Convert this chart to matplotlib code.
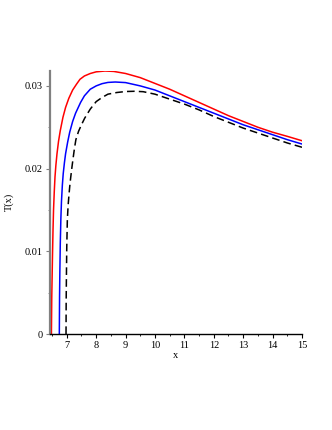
import matplotlib
matplotlib.use("Agg")
import matplotlib.pyplot as plt
from matplotlib.ticker import MultipleLocator

plt.rcParams['font.family'] = ['Liberation Serif', 'DejaVu Serif']
plt.rcParams['lines.scale_dashes'] = False

# red curve
x_red = [6.478, 6.49, 6.50, 6.515, 6.532, 6.55, 6.575, 6.60, 6.63, 6.668,
         6.72, 6.78, 6.87, 6.96, 7.07, 7.2, 7.33, 7.45, 7.6, 7.8,
         8.0, 8.3, 8.6, 9.0, 9.5, 10.0, 10.5, 11.0, 11.5, 12.0,
         12.5, 13.0, 13.5, 14.0, 14.5, 15.0]
t_red = [0.0, 0.0045, 0.0065, 0.0095, 0.0125, 0.0150, 0.0172, 0.0190, 0.0204, 0.0218,
         0.0233, 0.0246, 0.0262, 0.0274, 0.0285, 0.0295, 0.0302, 0.0308, 0.0312, 0.0315,
         0.0317, 0.0318, 0.03175, 0.0315, 0.0310, 0.0303, 0.0296, 0.0288, 0.0280, 0.0272,
         0.0264, 0.0257, 0.0250, 0.0244, 0.0239, 0.02337]

# blue curve
x_blue = [6.747, 6.755, 6.765, 6.78, 6.80, 6.82, 6.85, 6.88, 6.92, 6.96,
          7.03, 7.1, 7.2, 7.3, 7.47, 7.6, 7.8, 8.0, 8.2, 8.4,
          8.65, 9.0, 9.5, 10.0, 10.5, 11.0, 11.5, 12.0, 12.5, 13.0,
          13.5, 14.0, 14.5, 15.0]
t_blue = [0.0, 0.0045, 0.0075, 0.0110, 0.0140, 0.0160, 0.0180, 0.0194, 0.0207, 0.0218,
          0.0232, 0.0244, 0.0257, 0.0267, 0.0280, 0.0288, 0.0296, 0.0300, 0.03027, 0.03042,
          0.03047, 0.0304, 0.0300, 0.0295, 0.0288, 0.0281, 0.0274, 0.0267, 0.0260, 0.0253,
          0.0247, 0.0241, 0.0235, 0.02297]

# black dashed curve
x_black = [6.975, 6.98, 6.99, 7.0, 7.02, 7.045, 7.07, 7.1, 7.13, 7.17,
           7.21, 7.26, 7.31, 7.4, 7.5, 7.61, 7.8, 8.0, 8.2, 8.4,
           8.7, 9.0, 9.3, 9.6, 10.0, 10.5, 11.0, 11.5, 12.0, 12.5,
           13.0, 13.5, 14.0, 14.5, 15.0]
t_black = [0.0, 0.004, 0.0075, 0.0105, 0.0138, 0.0155, 0.0166, 0.0178, 0.0188, 0.0200,
           0.0211, 0.0224, 0.0235, 0.0245, 0.0253, 0.0261, 0.0272, 0.0281, 0.0286, 0.0290,
           0.0292, 0.02932, 0.02935, 0.0293, 0.0290, 0.0284, 0.0278, 0.0271, 0.0263, 0.0256,
           0.0249, 0.0243, 0.0237, 0.0231, 0.02258]

x_ticks = [7, 8, 9, 10, 11, 12, 13, 14, 15]
y_ticks = [0, 0.01, 0.02, 0.03]
y_tick_labels = ["0", "0.01", "0.02", "0.03"]

fig = plt.figure(figsize=(3.32, 4.30), dpi=100)
ax = fig.add_axes([50 / 332, 1 - 334 / 430, 252 / 332, 263.4 / 430])

ax.plot(x_red, t_red, color="#ff0000", lw=1.1)
ax.plot(x_blue, t_blue, color="#0000ff", lw=1.1)
ax.plot(x_black, t_black, color="black", lw=1.1, dashes=(5.5, 3.0))

ax.set_xlim(6.43, 15.0)
ax.set_ylim(0, 0.03185)

ax.set_xticks(x_ticks)
ax.set_xticklabels([str(v) for v in x_ticks])
ax.set_yticks(y_ticks)
ax.set_yticklabels(y_tick_labels)
ax.xaxis.set_minor_locator(MultipleLocator(0.5))
ax.yaxis.set_minor_locator(MultipleLocator(0.005))

for s in ["top", "right"]:
    ax.spines[s].set_visible(False)
ax.spines["left"].set_color("#808080")
ax.spines["left"].set_linewidth(1.6)
ax.spines["bottom"].set_color("black")
ax.spines["bottom"].set_linewidth(1.0)

ax.tick_params(axis="both", which="major", labelsize=7.5, length=3, width=0.8, pad=2)
ax.tick_params(axis="both", which="minor", length=1.5, width=0.6)
ax.tick_params(axis="y", which="both", colors="#808080", labelcolor="black")

ax.set_xlabel("x", fontsize=7.5, labelpad=1)
ax.set_ylabel("T(x)", fontsize=7.5, labelpad=8)

fig.savefig("out.png", dpi=100)
